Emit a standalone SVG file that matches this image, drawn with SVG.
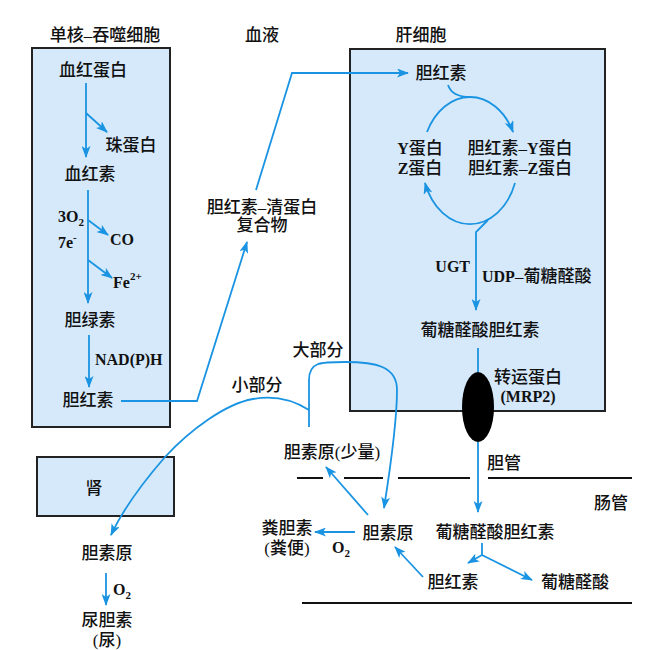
<svg xmlns="http://www.w3.org/2000/svg" width="666" height="650" viewBox="0 0 666 650">
<defs>
<marker id="ah" markerUnits="userSpaceOnUse" markerWidth="12" markerHeight="9" refX="11" refY="4.5" orient="auto">
<path d="M0,0 L12,4.5 L0,9 L3,4.5 z" fill="#1a94e2"/>
</marker>
<style>
.box{fill:#d5e9fb;stroke:#222;stroke-width:2}
.ln{fill:none;stroke:#1a94e2;stroke-width:1.8}
.ar{fill:none;stroke:#1a94e2;stroke-width:1.8;marker-end:url(#ah)}
.bk{fill:none;stroke:#111;stroke-width:1.8}
text{font-family:"Liberation Serif","Noto Sans CJK SC",serif;font-size:17px;font-weight:500;fill:#111}
.c{text-anchor:middle}
.e{text-anchor:end}
.b{font-weight:bold;font-size:16px}
.s{font-size:11px;font-weight:bold}
</style>
</defs>
<rect width="666" height="650" fill="#fff"/>

<g id="titles">
<text class="c" x="105" y="41">单核–吞噬细胞</text>
<text class="c" x="262" y="41">血液</text>
<text class="c" x="421" y="41">肝细胞</text>
</g>

<g id="monocyte">
<rect class="box" x="32" y="48" width="138" height="379"/>
<text class="c" x="93" y="76">血红蛋白</text>
<text class="c" x="131" y="151">珠蛋白</text>
<text class="c" x="90" y="180">血红素</text>
<text class="b" x="58" y="222">3O<tspan class="s" dy="4">2</tspan></text>
<text class="b" x="58" y="248">7e<tspan class="s" dy="-7">-</tspan></text>
<text class="b" x="110" y="245">CO</text>
<text class="b" x="113" y="288">Fe<tspan class="s" dy="-8">2+</tspan></text>
<text class="c" x="90" y="326">胆绿素</text>
<text class="b" x="95" y="365">NAD(P)H</text>
<text class="c" x="88" y="406">胆红素</text>
</g>

<g id="blood">
<text class="c" x="262" y="213">胆红素–清蛋白</text>
<text class="c" x="262" y="231">复合物</text>
</g>

<g id="liver">
<rect class="box" x="350" y="49" width="255" height="362"/>
<text class="c" x="441" y="79">胆红素</text>
<text class="c" x="420" y="154"><tspan class="b">Y</tspan>蛋白</text>
<text class="c" x="420" y="174"><tspan class="b">Z</tspan>蛋白</text>
<text class="c" x="520" y="154">胆红素–<tspan class="b">Y</tspan>蛋白</text>
<text class="c" x="520" y="174">胆红素–<tspan class="b">Z</tspan>蛋白</text>
<text class="e b" x="470" y="272">UGT</text>
<text x="482" y="282"><tspan class="b">UDP</tspan>–葡糖醛酸</text>
<text class="c" x="480" y="336">葡糖醛酸胆红素</text>
</g>

<g id="transporter">
<ellipse cx="478" cy="407" rx="16" ry="35" fill="#000"/>
<text class="c" x="528" y="383">转运蛋白</text>
<text class="c b" x="528" y="402">(MRP2)</text>
</g>

<g id="kidney">
<rect class="box" x="37" y="457" width="137" height="59"/>
<text class="c" x="94" y="494">肾</text>
</g>

<g id="labels">
<text x="487" y="469">胆管</text>
<text class="e" x="628" y="509">肠管</text>
<text class="c" x="495" y="538">葡糖醛酸胆红素</text>
<text class="c" x="453" y="588">胆红素</text>
<text class="c" x="575" y="588">葡糖醛酸</text>
<text class="c" x="388" y="539">胆素原</text>
<text class="b" x="332" y="553">O<tspan class="s" dy="4">2</tspan></text>
<text class="c" x="287" y="534">粪胆素</text>
<text class="c" x="287" y="554">(粪便)</text>
<text class="c" x="332" y="458">胆素原(少量)</text>
<text class="c" x="318" y="356">大部分</text>
<text class="c" x="257" y="391">小部分</text>
<text class="c" x="107" y="559">胆素原</text>
<text class="b" x="113" y="595">O<tspan class="s" dy="4">2</tspan></text>
<text class="c" x="107" y="626">尿胆素</text>
<text class="c" x="107" y="646">(尿)</text>
</g>

<g id="boundaries">
<path class="bk" d="M297,478 H323 M344,478 H383 M398,478 H470 M488,478 H632"/>
<path class="bk" d="M302,603 H632"/>
</g>

<g id="connectors">
<path class="ar" d="M86,83 V157"/>
<path class="ar" d="M86,113 L107,132"/>
<path class="ar" d="M88,190 V303"/>
<path class="ar" d="M88,220 L108,235"/>
<path class="ar" d="M88,260 L112,278"/>
<path class="ar" d="M89,335 V387"/>
<path class="ar" d="M121,401 H197 L247,242"/>
<path class="ar" d="M256,190 L292,73 H408"/>
<path class="ln" d="M448,85 Q452,97 470,97"/>
<path class="ar" d="M427,132 A48,63 0 0 1 513,132"/>
<path class="ar" d="M515,183 A48,63 0 0 1 425,183"/>
<path class="ar" d="M488,220 L476,232 V310"/>
<path class="ln" d="M478,348 V372"/>
<path class="ar" d="M478,442 V512"/>
<path class="ln" d="M482,543 V555"/>
<path class="ar" d="M482,555 L468,563"/>
<path class="ar" d="M482,555 L532,580"/>
<path class="ar" d="M423,577 L395,547"/>
<path class="ar" d="M355,532 H315"/>
<path class="ar" d="M368,515 L326,467"/>
<path class="ar" d="M309,427 V380 C309,362 320,362 345,362 C375,362 397,366 397,390 C397,420 390,470 384,508"/>
<path class="ar" d="M309,410 C290,398 270,396 253,399 C225,404 190,430 165,457 C145,480 125,505 111,535"/>
<path class="ar" d="M106,573 V605"/>
</g>
</svg>
